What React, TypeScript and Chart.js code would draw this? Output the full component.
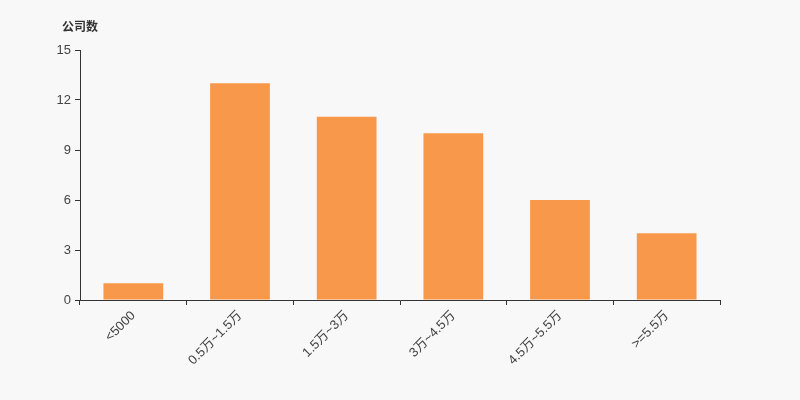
import React, { useEffect, useRef } from "react";
import { Chart, registerables } from "chart.js";

Chart.register(...registerables);

const categories = ["<5000", "0.5万~1.5万", "1.5万~3万", "3万~4.5万", "4.5万~5.5万", ">=5.5万"];
const companyCounts = [1, 13, 11, 10, 6, 4];
const yTitle = "公司数";

const FONT = "'Liberation Sans', 'Noto Sans CJK SC', sans-serif";

const titlePlugin = {
  id: "yTitle",
  afterDraw(chart: any) {
    const ctx = chart.ctx;
    ctx.save();
    ctx.font = `bold 12px ${FONT}`;
    ctx.fillStyle = "#333";
    ctx.textAlign = "left";
    ctx.textBaseline = "middle";
    ctx.fillText(yTitle, 62, 28);
    ctx.restore();
  },
};

const bgPlugin = {
  id: "bg",
  beforeDraw(chart: any) {
    const ctx = chart.ctx;
    ctx.save();
    ctx.fillStyle = "#f8f8f8";
    ctx.fillRect(0, 0, chart.width, chart.height);
    ctx.restore();
  },
};

export default function App() {
  const ref = useRef<HTMLCanvasElement | null>(null);
  useEffect(() => {
    if (!ref.current) return;
    const chart = new Chart(ref.current, {
      type: "bar",
      data: {
        labels: categories,
        datasets: [
          {
            data: companyCounts,
            backgroundColor: "#f8984a",
            borderWidth: 0,
            barPercentage: 0.56,
            categoryPercentage: 1,
          },
        ],
      },
      options: {
        animation: false,
        responsive: false,
        layout: { padding: { top: 50, right: 80, bottom: 0, left: 0 } },
        plugins: { legend: { display: false }, tooltip: { enabled: false } },
        scales: {
          x: {
            grid: { drawOnChartArea: false, tickLength: 5, color: "#333", offset: true },
            border: { color: "#333", width: 1 },
            ticks: {
              color: "#444",
              font: { family: FONT, size: 13 },
              maxRotation: 45,
              minRotation: 45,
              autoSkip: false,
            },
            afterFit(scale: any) {
              scale.height = 100;
            },
          },
          y: {
            min: 0,
            max: 15,
            ticks: { stepSize: 3, color: "#444", font: { family: FONT, size: 13 }, padding: 4 },
            grid: { drawOnChartArea: false, tickLength: 5, color: "#333" },
            border: { color: "#333", width: 1 },
            afterFit(scale: any) {
              scale.width = 80;
            },
          },
        },
      },
      plugins: [bgPlugin, titlePlugin],
    });
    return () => chart.destroy();
  }, []);
  return (
    <div style={{ position: "fixed", left: 0, top: 0, width: 800, height: 400 }}>
      <canvas ref={ref} width={800} height={400} style={{ display: "block" }} />
    </div>
  );
}
